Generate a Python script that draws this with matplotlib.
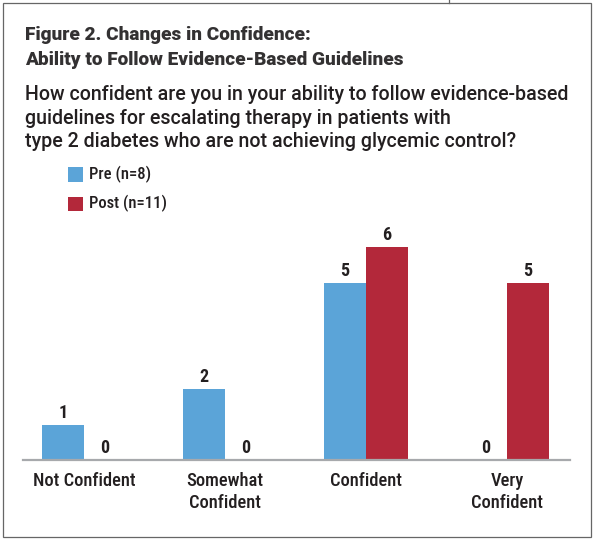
import matplotlib
matplotlib.use('Agg')
import matplotlib.pyplot as plt
import numpy as np
from matplotlib.patches import Rectangle
from matplotlib.lines import Line2D

categories = ['Not Confident', 'Somewhat\nConfident', 'Confident', 'Very\nConfident']
pre = [1, 2, 5, 0]
post = [0, 0, 6, 5]
series_names = ['Pre (n=8)', 'Post (n=11)']

title_lines = ['Figure 2. Changes in Confidence:',
               'Ability to Follow Evidence-Based Guidelines']
question_lines = ['How confident are you in your ability to follow evidence-based',
                  'guidelines for escalating therapy in patients with',
                  'type 2 diabetes who are not achieving glycemic control?']

blue = '#5BA4D8'
red = '#B3283A'
text_col = '#231F20'
narrow = ['Roboto Condensed', 'DejaVu Sans']
wide = ['Roboto', 'DejaVu Sans']

W, H = 595, 543
fig = plt.figure(figsize=(W / 100, H / 100), dpi=100)

def fx(px):
    return px / W

def fy(py):
    return 1 - py / H

# frame around the figure
fig.add_artist(Rectangle((fx(2.5), fy(537)), fx(591) - fx(2.5), fy(3) - fy(537),
                         transform=fig.transFigure, fill=False,
                         edgecolor='#666666', linewidth=0.9))
fig.add_artist(Line2D([fx(449), fx(449)], [fy(3), 1], transform=fig.transFigure,
                      color='#666666', linewidth=0.9))

# titles
for i, line in enumerate(title_lines):
    fig.text(fx(25), fy(39.5 + i * 25.5), line, fontsize=13.7, fontweight='black',
             family=wide, color='#333132', va='baseline')
for i, line in enumerate(question_lines):
    fig.text(fx(25), fy(100 + i * 23.5), line, fontsize=14.1, fontweight='medium',
             family=wide, color=text_col, va='baseline')

# axes
ax = fig.add_axes([fx(23), fy(460), fx(570) - fx(23), fy(211.5) - fy(460)])
x = np.arange(len(categories))
bw = 0.298
b1 = ax.bar(x - bw / 2, pre, bw, color=blue, label=series_names[0])
b2 = ax.bar(x + bw / 2, post, bw, color=red, label=series_names[1])

for bars, vals in [(b1, pre), (b2, post)]:
    for rect, v in zip(bars, vals):
        ax.annotate(str(v), (rect.get_x() + rect.get_width() / 2, v),
                    xytext=(0, 4.8), textcoords='offset points',
                    ha='center', va='baseline', fontsize=13,
                    fontweight='bold', family=narrow, color=text_col)

ax.set_xlim(-0.433, 3.447)
ax.set_ylim(0, 7)
ax.set_xticks(x)
ax.set_xticklabels(categories, family=narrow, fontsize=13.3, fontweight='medium',
                   color=text_col, linespacing=1.22)
ax.tick_params(axis='x', length=0, pad=9)
ax.set_yticks([])
for s in ['top', 'right', 'left']:
    ax.spines[s].set_visible(False)
ax.spines['bottom'].set_color('#A7A9AC')
ax.spines['bottom'].set_linewidth(1.6)
ax.patch.set_alpha(0)

# legend drawn as squares with labels
for i, (name, col) in enumerate(zip(series_names, [blue, red])):
    top = 167 + i * 29.5
    fig.add_artist(Rectangle((fx(68), fy(top + 14.5)), fx(15), fy(top) - fy(top + 14.5),
                             transform=fig.transFigure, color=col, linewidth=0))
    fig.text(fx(89), fy(top + 7.2), name, fontsize=12, fontweight='medium',
             family=narrow, color=text_col, va='center')

fig.savefig('out.png', dpi=100)
